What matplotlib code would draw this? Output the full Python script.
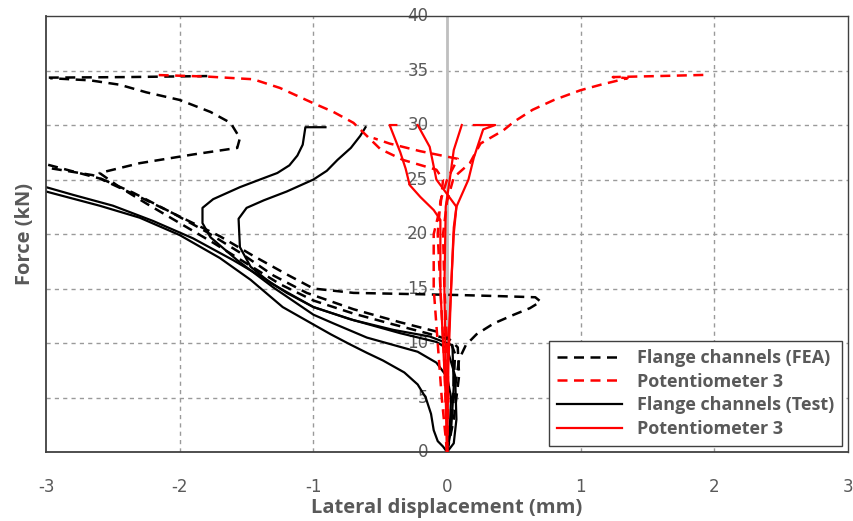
import matplotlib
matplotlib.use("Agg")
import matplotlib.pyplot as plt
from matplotlib.lines import Line2D

# ---------------- data ----------------
x_ticks = [-3, -2, -1, 0, 1, 2, 3]
y_ticks = [0, 5, 10, 15, 20, 25, 30, 35, 40]

# Flange channels (FEA) - black dashed
fea1_x = [0, 0.03, 0.06, 0.09, 0.14, 0.22, 0.35, 0.5, 0.62, 0.70, 0.66, 0.4, 0.1, -0.3, -0.7, -1.0, -1.2, -1.45, -1.7, -2.0, -2.3, -2.6, -3.0]
fea1_y = [0, 3, 6, 8.5, 9.8, 10.8, 11.8, 12.6, 13.2, 13.8, 14.2, 14.3, 14.4, 14.5, 14.6, 15.0, 16.3, 18.0, 19.8, 21.6, 23.4, 25.1, 26.4]
fea2_x = [0, 0.04, 0.06, 0.02, -0.15, -0.4, -0.7, -1.0, -1.25, -1.5, -1.75, -2.0, -2.25, -2.45, -2.6, -2.3, -1.9, -1.57, -1.55, -1.62, -1.77, -2.0, -2.25, -2.45, -2.67, -2.97]
fea2_y = [0, 4, 9, 10.3, 10.9, 11.7, 12.7, 13.9, 15.4, 17.3, 19.2, 21.0, 22.8, 24.3, 25.6, 26.5, 27.3, 27.9, 28.8, 30.2, 31.2, 32.3, 33.0, 33.7, 34.1, 34.3]
fea3_x = [0, 0.05, 0.09, 0.08, -0.03, -0.35, -0.7, -1.05, -1.3, -1.55, -1.8, -2.05, -2.35, -2.65, -3.0]
fea3_y = [0, 3, 7, 9.6, 10.9, 11.9, 13.1, 14.6, 16.2, 18.3, 20.2, 21.9, 23.8, 25.4, 26.1]
fea4_x = [-2.98, -2.4, -1.76]
fea4_y = [34.35, 34.4, 34.5]

# Flange channels (Test) - black solid
test1_x = [0, -0.03, -0.07, -0.1, -0.12, -0.16, -0.22, -0.32, -0.48, -0.6, -0.73, -0.87, -1.0, -1.23, -1.47, -1.7, -2.0, -2.3, -2.6, -3.0]
test1_y = [0, 0.5, 1.0, 2.0, 3.5, 5.0, 6.2, 7.3, 8.4, 9.1, 9.9, 10.8, 11.7, 13.3, 15.8, 17.8, 19.9, 21.5, 22.6, 23.9]
test2_x = [0, 0.05, 0.07, 0.06, 0.0, -0.08, -0.35, -0.73, -1.0, -1.2, -1.35, -1.6, -1.9, -2.2, -2.5, -2.8, -3.0]
test2_y = [0, 0.8, 3, 7, 9.5, 10.1, 10.9, 12.2, 13.3, 14.6, 15.8, 17.6, 19.6, 21.2, 22.6, 23.6, 24.3]
test3_x = [0, 0.02, 0.03, 0.0, -0.08, -0.22, -0.6, -0.85, -1.0, -1.3, -1.57, -1.77, -1.83, -1.83, -1.75, -1.55, -1.4, -1.27, -1.18, -1.12, -1.08, -1.06, -0.91]
test3_y = [0, 2, 5, 6.9, 8.2, 9.2, 10.5, 11.8, 12.6, 15.1, 17.6, 19.7, 21.0, 22.4, 23.2, 24.3, 25.0, 25.6, 26.3, 27.2, 28.2, 29.8, 29.8]
test4_x = [0, 0.03, 0.05, 0.04, -0.13, -0.4, -0.7, -1.0, -1.32, -1.47, -1.55, -1.56, -1.5, -1.37, -1.2, -1.0, -0.9, -0.82, -0.72, -0.65, -0.61]
test4_y = [0, 2, 6, 9.8, 10.6, 11.2, 12.1, 13.3, 15.5, 17.0, 18.8, 21.4, 22.4, 23.1, 23.9, 25.0, 25.8, 26.8, 27.9, 29.0, 29.8]

# Potentiometer 3 (FEA) - red dashed
rd1_x = [0, -0.04, -0.07, -0.1, -0.1, -0.05, -0.03, -0.08, -0.33, -0.5, -0.6, -0.7, -0.85, -1.0, -1.25, -1.45, -1.8, -2.2]
rd1_y = [0, 5, 10, 15, 20, 22.5, 25, 25.9, 26.8, 27.8, 29.0, 30.2, 31.2, 32.0, 33.4, 34.2, 34.45, 34.6]
rd2_x = [0, 0.01, 0.0, -0.02, -0.03, 0.0, 0.05, 0.17, 0.25, 0.42, 0.5, 0.64, 0.8, 1.0, 1.15, 1.35, 1.24, 1.6, 1.93]
rd2_y = [0, 5, 10, 15, 20, 23, 25.2, 26.5, 28.3, 29.5, 30.3, 31.4, 32.3, 33.2, 33.7, 34.3, 34.4, 34.5, 34.6]
rd3_x = [0, -0.02, -0.05, -0.07, -0.05, 0.0, 0.08, -0.2, -0.43, -0.55]
rd3_y = [0, 8, 15, 20, 23, 25, 26.9, 27.6, 28.3, 28.8]

# Potentiometer 3 (Test) - red solid
rs1_x = [0, -0.01, -0.03, -0.05, -0.05, -0.1, -0.2, -0.28, -0.31, -0.35, -0.43, -0.38]
rs1_y = [0, 5, 10, 15, 21.3, 22.2, 23.4, 24.5, 26.0, 27.5, 30.0, 30.0]
rs2_x = [0, 0.0, 0.01, 0.03, 0.05, 0.07, -0.08, -0.13, -0.22]
rs2_y = [0, 5, 10, 15, 20.6, 22.5, 25.0, 28.0, 30.0]
rs3_x = [0, -0.01, -0.02, -0.01, 0.02, 0.05, 0.11]
rs3_y = [0, 8, 15, 22.5, 25.0, 27.7, 30.0]
rs4_x = [0, 0.01, 0.03, 0.05, 0.07, 0.16, 0.2, 0.27, 0.36, 0.2]
rs4_y = [0, 8, 15, 20, 22.5, 25.0, 27.0, 29.6, 30.0, 30.0]

legend_labels = ["Flange channels (FEA)", "Potentiometer 3",
                 "Flange channels (Test)", "Potentiometer 3"]

# ---------------- plot ----------------
fig = plt.figure(figsize=(8.54, 5.21), dpi=100)
ax = fig.add_axes([0.054, 0.1324, 0.939, 0.8368])
ax.set_xlim(-3, 3)
ax.set_ylim(0, 40)

gray = "#595959"
dash = (0, (4, 2.6))

# grid
for gx in x_ticks[1:-1]:
    if gx != 0:
        ax.axvline(gx, color="#9a9a9a", lw=1.0, ls=(0, (3, 3)), zorder=0)
for gy in y_ticks[1:-1]:
    ax.axhline(gy, color="#9a9a9a", lw=1.0, ls=(0, (3, 3)), zorder=0)
ax.axvline(0, color="#bfbfbf", lw=2.0, zorder=0.5)

for xs, ys in [(fea1_x, fea1_y), (fea2_x, fea2_y), (fea3_x, fea3_y), (fea4_x, fea4_y)]:
    ax.plot(xs, ys, color="black", lw=1.8, ls=dash, zorder=2)
for xs, ys in [(test1_x, test1_y), (test2_x, test2_y), (test3_x, test3_y), (test4_x, test4_y)]:
    ax.plot(xs, ys, color="black", lw=1.6, zorder=2)
for xs, ys in [(rd1_x, rd1_y), (rd2_x, rd2_y), (rd3_x, rd3_y)]:
    ax.plot(xs, ys, color="red", lw=1.8, ls=dash, zorder=3)
for xs, ys in [(rs1_x, rs1_y), (rs2_x, rs2_y), (rs3_x, rs3_y), (rs4_x, rs4_y)]:
    ax.plot(xs, ys, color="red", lw=1.6, zorder=3)

# spines
for s in ["left", "bottom"]:
    ax.spines[s].set_color("#404040")
    ax.spines[s].set_linewidth(1.3)
for s in ["top", "right"]:
    ax.spines[s].set_color("#404040")
    ax.spines[s].set_linewidth(1.0)

# ticks
ax.set_xticks(x_ticks)
ax.set_xticklabels([str(t) for t in x_ticks], fontsize=12, color=gray)
ax.tick_params(axis="x", length=0, pad=19)
ax.set_yticks([])
for t in y_ticks:
    ax.text(-0.14, t, str(t), ha="right", va="center", fontsize=12,
            color=gray, zorder=1)

ax.set_xlabel("Lateral displacement (mm)", fontsize=14.5, fontweight="bold",
              color=gray, family="Open Sans", labelpad=1)
ax.set_ylabel("Force (kN)", fontsize=14.5, fontweight="bold", color=gray,
              family="Open Sans", labelpad=8)

handles = [Line2D([], [], color="black", lw=1.8, ls=dash),
           Line2D([], [], color="red", lw=1.8, ls=dash),
           Line2D([], [], color="black", lw=1.6),
           Line2D([], [], color="red", lw=1.6)]
leg = ax.legend(handles, legend_labels, loc="lower right",
                bbox_to_anchor=(0.9925, 0.013), borderaxespad=0,
                fancybox=False, framealpha=1,
                edgecolor="#404040", handlelength=3.6, labelspacing=0.32,
                borderpad=0.45, handletextpad=0.8,
                prop={"family": "Open Sans", "weight": "bold", "size": 13})
for t in leg.get_texts():
    t.set_color(gray)
leg.get_frame().set_linewidth(1.0)

fig.savefig("out.png", dpi=100)
